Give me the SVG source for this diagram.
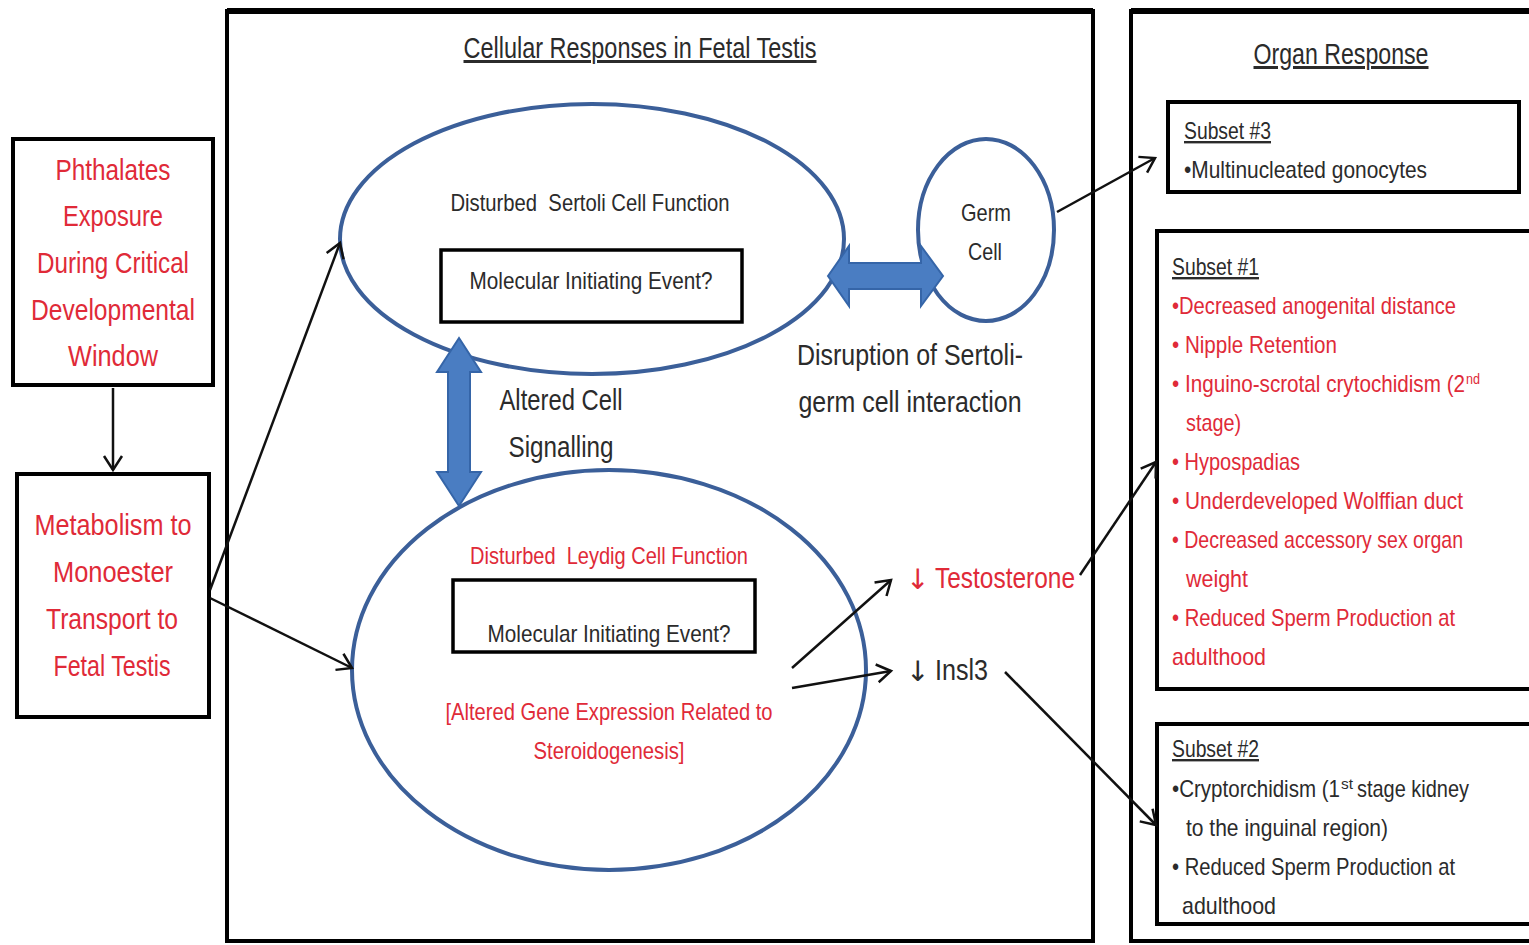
<svg xmlns="http://www.w3.org/2000/svg" width="1529" height="945" viewBox="0 0 1529 945">
<style>
text{font-family:"Liberation Sans Narrow","Liberation Sans",Arial,sans-serif;}
.t{fill:#2b2b2b;}
.r{fill:#e02a38;}
.big{font-size:29px;}
.mid{font-size:24px;}
.sup{font-size:14px;}
.arr{font-family:"DejaVu Sans",sans-serif;font-size:28px;}
.c{text-anchor:middle;}
.box{fill:#fff;stroke:#000;stroke-width:4;}
.frame{fill:none;stroke:#000;stroke-width:4;}
.ell{fill:none;stroke:#3b5f99;stroke-width:4;}
.blk{fill:#4a7dc2;stroke:#3565a8;stroke-width:2;}
.con{fill:none;stroke:#111;stroke-width:2.5;marker-end:url(#ah);}
.u{text-decoration:underline;}
.pre{white-space:pre;}
</style>
<defs>
<marker id="ah" markerUnits="userSpaceOnUse" markerWidth="24" markerHeight="24" refX="20" refY="12" orient="auto">
<path d="M6,3 L20,12 L6,21" fill="none" stroke="#111" stroke-width="2.5"/>
</marker>
</defs>
<rect width="1529" height="945" fill="#fff"/>

<g id="cellular-frame">
<rect class="frame" x="227" y="11" width="866" height="930"/>
<line x1="227" y1="11" x2="1093" y2="11" stroke="#000" stroke-width="6"/>
<text class="t c u" x="640" y="58" style="font-size:30px" textLength="353" lengthAdjust="spacingAndGlyphs">Cellular Responses in Fetal Testis</text>
</g>
<g id="organ-frame">
<rect class="frame" x="1131" y="11" width="430" height="930"/>
<line x1="1131" y1="11" x2="1529" y2="11" stroke="#000" stroke-width="6"/>
<text class="t c u" x="1341" y="64" style="font-size:30px" textLength="175" lengthAdjust="spacingAndGlyphs">Organ Response</text>
</g>

<g id="phthalates">
<rect class="box" x="13" y="139" width="200" height="246"/>
<text class="r big c" x="113" y="180" textLength="115" lengthAdjust="spacingAndGlyphs">Phthalates</text>
<text class="r big c" x="113" y="226" textLength="100" lengthAdjust="spacingAndGlyphs">Exposure</text>
<text class="r big c" x="113" y="273" textLength="152" lengthAdjust="spacingAndGlyphs">During Critical</text>
<text class="r big c" x="113" y="320" textLength="164" lengthAdjust="spacingAndGlyphs">Developmental</text>
<text class="r big c" x="113" y="366" textLength="90" lengthAdjust="spacingAndGlyphs">Window</text>
</g>

<g id="metabolism">
<rect class="box" x="17" y="474" width="192" height="243"/>
<text class="r big c" x="113" y="535" textLength="157" lengthAdjust="spacingAndGlyphs">Metabolism to</text>
<text class="r big c" x="113" y="582" textLength="120" lengthAdjust="spacingAndGlyphs">Monoester</text>
<text class="r big c" x="112" y="629" textLength="132" lengthAdjust="spacingAndGlyphs">Transport to</text>
<text class="r big c" x="112" y="676" textLength="117" lengthAdjust="spacingAndGlyphs">Fetal Testis</text>
</g>

<g id="sertoli">
<ellipse class="ell" cx="592" cy="239" rx="252" ry="135"/>
<text class="t mid c pre" x="590" y="211" textLength="279" lengthAdjust="spacingAndGlyphs">Disturbed  Sertoli Cell Function</text>
<rect class="box" x="441" y="250" width="301" height="72" style="stroke-width:3.5"/>
<text class="t mid c" x="591" y="289" textLength="243" lengthAdjust="spacingAndGlyphs">Molecular Initiating Event?</text>
</g>

<g id="germ-cell">
<ellipse class="ell" cx="986" cy="230" rx="68" ry="91"/>
<text class="t mid c" x="986" y="221" textLength="50" lengthAdjust="spacingAndGlyphs">Germ</text>
<text class="t mid c" x="985" y="260" textLength="34" lengthAdjust="spacingAndGlyphs">Cell</text>
</g>

<g id="leydig">
<ellipse class="ell" cx="609" cy="670" rx="257" ry="200"/>
<text class="r mid c pre" x="609" y="564" textLength="278" lengthAdjust="spacingAndGlyphs">Disturbed  Leydig Cell Function</text>
<rect class="box" x="453" y="580" width="302" height="72" style="stroke-width:3.5"/>
<text class="t mid c" x="609" y="642" textLength="243" lengthAdjust="spacingAndGlyphs">Molecular Initiating Event?</text>
<text class="r mid c" x="609" y="720" textLength="327" lengthAdjust="spacingAndGlyphs">[Altered Gene Expression Related to</text>
<text class="r mid c" x="609" y="759" textLength="151" lengthAdjust="spacingAndGlyphs">Steroidogenesis]</text>
</g>

<g id="altered-signalling">
<path class="blk" d="M459,338 L481,372 L470,372 L470,472 L481,472 L459,506 L437,472 L448,472 L448,372 L437,372 Z"/>
<text class="t big c" x="561" y="410" textLength="123" lengthAdjust="spacingAndGlyphs">Altered Cell</text>
<text class="t big c" x="561" y="457" textLength="105" lengthAdjust="spacingAndGlyphs">Signalling</text>
</g>

<g id="sertoli-germ-interaction">
<path class="blk" d="M828,276 L849,246 L849,263 L921,263 L921,246 L943,276 L921,306 L921,289 L849,289 L849,306 Z"/>
<text class="t big c" x="910" y="365" textLength="226" lengthAdjust="spacingAndGlyphs">Disruption of Sertoli-</text>
<text class="t big c" x="910" y="412" textLength="223" lengthAdjust="spacingAndGlyphs">germ cell interaction</text>
</g>

<g id="testosterone">
<text class="r arr" x="906" y="589">↓</text>
<text class="r big" x="935" y="588" textLength="140" lengthAdjust="spacingAndGlyphs">Testosterone</text>
</g>
<g id="insl3">
<text class="t arr" x="906" y="681">↓</text>
<text class="t big" x="935" y="680" textLength="53" lengthAdjust="spacingAndGlyphs">Insl3</text>
</g>

<g id="subset3">
<rect class="box" x="1168" y="102" width="351" height="90"/>
<text class="t mid u" x="1184" y="139" textLength="87" lengthAdjust="spacingAndGlyphs">Subset #3</text>
<text class="t mid" x="1184" y="178" textLength="243" lengthAdjust="spacingAndGlyphs">•Multinucleated gonocytes</text>
</g>

<g id="subset1">
<rect class="box" x="1157" y="231" width="400" height="458"/>
<text class="t mid u" x="1172" y="275" textLength="87" lengthAdjust="spacingAndGlyphs">Subset #1</text>
<text class="r mid" x="1172" y="314" textLength="284" lengthAdjust="spacingAndGlyphs">•Decreased anogenital distance</text>
<text class="r mid" x="1172" y="353" textLength="165" lengthAdjust="spacingAndGlyphs">• Nipple Retention</text>
<text class="r mid" x="1172" y="392" textLength="293" lengthAdjust="spacingAndGlyphs">• Inguino-scrotal crytochidism (2</text>
<text class="r sup" x="1466" y="384" textLength="14" lengthAdjust="spacingAndGlyphs">nd</text>
<text class="r mid" x="1186" y="431" textLength="55" lengthAdjust="spacingAndGlyphs">stage)</text>
<text class="r mid" x="1172" y="470" textLength="128" lengthAdjust="spacingAndGlyphs">• Hypospadias</text>
<text class="r mid" x="1172" y="509" textLength="291" lengthAdjust="spacingAndGlyphs">• Underdeveloped Wolffian duct</text>
<text class="r mid" x="1172" y="548" textLength="291" lengthAdjust="spacingAndGlyphs">• Decreased accessory sex organ</text>
<text class="r mid" x="1186" y="587" textLength="62" lengthAdjust="spacingAndGlyphs">weight</text>
<text class="r mid" x="1172" y="626" textLength="283" lengthAdjust="spacingAndGlyphs">• Reduced Sperm Production at</text>
<text class="r mid" x="1172" y="665" textLength="94" lengthAdjust="spacingAndGlyphs">adulthood</text>
</g>

<g id="subset2">
<rect class="box" x="1157" y="724" width="400" height="200"/>
<text class="t mid u" x="1172" y="757" textLength="87" lengthAdjust="spacingAndGlyphs">Subset #2</text>
<text class="t mid" x="1172" y="797" textLength="168" lengthAdjust="spacingAndGlyphs">•Cryptorchidism (1</text>
<text class="t sup" x="1341" y="789" textLength="12" lengthAdjust="spacingAndGlyphs">st</text>
<text class="t mid" x="1357" y="797" textLength="112" lengthAdjust="spacingAndGlyphs">stage kidney</text>
<text class="t mid" x="1186" y="836" textLength="202" lengthAdjust="spacingAndGlyphs">to the inguinal region)</text>
<text class="t mid" x="1172" y="875" textLength="283" lengthAdjust="spacingAndGlyphs">• Reduced Sperm Production at</text>
<text class="t mid" x="1182" y="914" textLength="94" lengthAdjust="spacingAndGlyphs">adulthood</text>
</g>

<g id="connectors">
<line class="con" x1="113" y1="388" x2="113" y2="470"/>
<line class="con" x1="210" y1="590" x2="340" y2="243"/>
<line class="con" x1="210" y1="598" x2="352" y2="668"/>
<line class="con" x1="1057" y1="212" x2="1155" y2="158"/>
<line class="con" x1="792" y1="668" x2="891" y2="580"/>
<line class="con" x1="792" y1="688" x2="891" y2="671"/>
<line class="con" x1="1080" y1="575" x2="1156" y2="462"/>
<line class="con" x1="1005" y1="672" x2="1156" y2="825"/>
</g>
</svg>
